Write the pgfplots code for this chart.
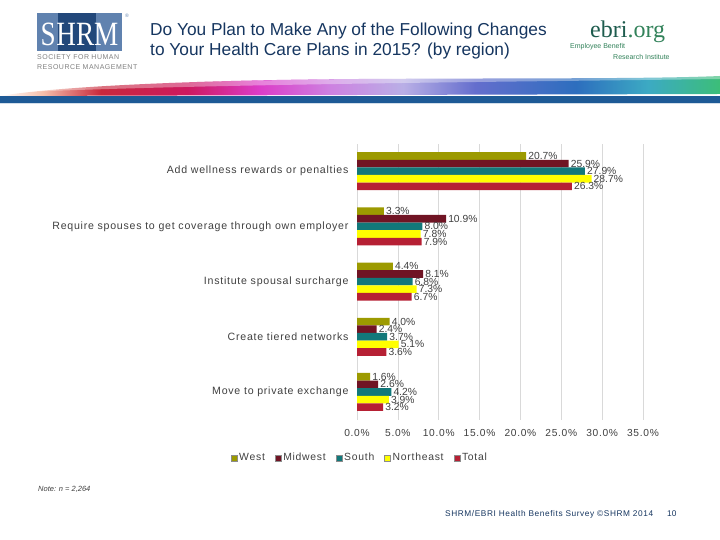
\documentclass[border=0pt]{standalone}
\usepackage{pgfplots}
\pgfplotsset{compat=1.18}
\usepackage{pgfplotstable}
\usepackage{fontspec}
\setmainfont{Liberation Sans}
\newfontfamily\spfont[LetterSpace=7]{Liberation Sans}
\newfontfamily\seriffont{Liberation Serif}
\definecolor{westc}{RGB}{156,154,0}
\definecolor{midc}{RGB}{112,20,36}
\definecolor{southc}{RGB}{18,120,122}
\definecolor{northc}{RGB}{255,255,0}
\definecolor{totalc}{RGB}{182,32,52}
\definecolor{txt}{RGB}{64,64,64}
\definecolor{navy}{RGB}{22,54,96}
\definecolor{shrmlight}{RGB}{96,130,175}
\definecolor{shrmdark}{RGB}{34,72,122}
\definecolor{ebridark}{RGB}{30,92,78}
\definecolor{ebrigreen}{RGB}{50,130,90}
\definecolor{bandblue}{RGB}{30,90,150}
\pgfdeclarehorizontalshading{ribbon}{100bp}{
 color(0bp)=(white);
 color(25bp)=(white);
 color(28bp)=(rgb,255:red,245;green,190;blue,170);
 color(32bp)=(rgb,255:red,200;green,40;blue,60);
 color(38bp)=(rgb,255:red,205;green,25;blue,95);
 color(43bp)=(rgb,255:red,220;green,60;blue,200);
 color(48bp)=(rgb,255:red,205;green,130;blue,225);
 color(53bp)=(rgb,255:red,185;green,175;blue,230);
 color(58bp)=(rgb,255:red,100;green,110;blue,205);
 color(65bp)=(rgb,255:red,45;green,110;blue,190);
 color(70bp)=(rgb,255:red,60;green,170;blue,195);
 color(75bp)=(rgb,255:red,60;green,190;blue,120);
 color(100bp)=(rgb,255:red,60;green,190;blue,120)}
\pgfplotstableread{
cat west midwest south northeast total
4 20.7 25.9 27.9 28.7 26.3
3 3.3 10.9 8.0 7.8 7.9
2 4.4 8.1 6.8 7.3 6.7
1 4.0 2.4 3.7 5.1 3.6
0 1.6 2.6 4.2 3.9 3.2
}\datatable
\begin{document}
\begin{tikzpicture}[x=1pt,y=1pt]
\path[fill=white] (0,0) rectangle (720,540);
% SHRM logo
\fill[shrmlight] (37,489) rectangle (122,527);
\fill[shrmdark] (58,489) rectangle (96,527);
\node[text=white,font=\seriffont\fontsize{34}{34}\selectfont,inner sep=0pt,anchor=base] at (79.5,494) {\scalebox{0.8}[1]{S\hspace{1pt}HRM}};
\node[text=shrmlight,font=\fontsize{5}{5}\selectfont,inner sep=0pt] at (127,524) {\textregistered};
\node[text=gray,font=\spfont\fontsize{7}{7}\selectfont,inner sep=0pt,anchor=west] at (37,483) {SOCIETY FOR HUMAN};
\node[text=gray,font=\spfont\fontsize{7}{7}\selectfont,inner sep=0pt,anchor=west] at (37,473) {RESOURCE MANAGEMENT};
% title
\node[text=navy,font=\fontsize{17.3}{20}\selectfont,inner sep=0pt,anchor=west] at (150,509) {Do You Plan to Make Any of the Following Changes};
\node[text=navy,font=\fontsize{17.3}{20}\selectfont,inner sep=0pt,anchor=west] at (150,489) {to Your Health Care Plans in 2015? (by region)};
% ebri logo
\node[font=\seriffont\fontsize{24}{24}\selectfont,inner sep=0pt,anchor=base west] at (590,502) {\textcolor{ebridark}{ebri}\textcolor{ebrigreen}{.org}};
\node[text=ebrigreen,font=\fontsize{7}{8}\selectfont,inner sep=0pt,anchor=west] at (570,493) {Employee Benefit};
\node[text=ebrigreen,font=\fontsize{7}{8}\selectfont,inner sep=0pt,anchor=west] at (613,483) {Research Institute};
% ribbon
\shade[shading=ribbon] (0,444) .. controls (60,454) and (200,460) .. (360,461) .. controls (520,462) and (650,461) .. (720,464) -- (720,446) -- (0,444) -- cycle;
\fill[white,opacity=0.35] (0,452) .. controls (200,461) and (500,463) .. (720,464) -- (720,461) .. controls (500,458) and (200,456) .. (0,447) -- cycle;
\fill[bandblue] (0,437) rectangle (720,444);
\fill[bandblue!20] (0,436) rectangle (720,437);
% chart
\begin{axis}[
 at={(357pt,120.4pt)}, anchor=south west,
 scale only axis, width=286pt, height=276pt,
 xmin=0, xmax=35, ymin=-0.5, ymax=4.5,
 xbar, bar width=7.6pt,
 /pgf/number format/assume math mode=true,
 axis line style={draw=none},
 major tick length=0pt,
 xmajorgrids, grid style={draw=black!15, line width=0.6pt},
 xtick={0,5,...,35},
 xticklabel={\pgfmathprintnumber[fixed,fixed zerofill,precision=1]{\tick}\%},
 xticklabel style={font=\spfont\fontsize{10.2}{12}\selectfont, text=txt, yshift=-6pt},
 ytick={0,1,2,3,4},
 yticklabels={Move to private exchange,Create tiered networks,Institute spousal surcharge,Require spouses to get coverage through own employer,Add wellness rewards or penalties},
 yticklabel style={font=\spfont\fontsize{10.6}{12}\selectfont, text=txt, xshift=-5pt},
 nodes near coords={\pgfmathprintnumber[fixed,fixed zerofill,precision=1]{\pgfplotspointmeta}\%},
 point meta=x,
 every node near coord/.append style={anchor=west, font=\fontsize{10.3}{11}\selectfont, text=txt, inner sep=2pt},
 legend style={at={(0.01,-0.139)}, anchor=center, draw=none, fill=none, legend columns=5,
   font=\spfont\fontsize{10.4}{12}\selectfont, text=txt,
   /tikz/every even column/.append style={column sep=8pt}},
 legend image code/.code={\draw[#1,draw=black!45,line width=0.4pt] (0pt,-3pt) rectangle (6pt,3pt);},
 clip=false,
]
\addplot[fill=westc, draw=none, bar shift=15.2pt] table[x=west,y=cat]{\datatable};
\addplot[fill=midc, draw=none, bar shift=7.6pt] table[x=midwest,y=cat]{\datatable};
\addplot[fill=southc, draw=none, bar shift=0pt] table[x=south,y=cat]{\datatable};
\addplot[fill=northc, draw=none, bar shift=-7.6pt] table[x=northeast,y=cat]{\datatable};
\addplot[fill=totalc, draw=none, bar shift=-15.2pt] table[x=total,y=cat]{\datatable};
\legend{West,Midwest,South,Northeast,Total}
\end{axis}
% footer
\node[text=txt,font=\itshape\fontsize{7.5}{8}\selectfont,inner sep=0pt,anchor=west] at (38,51) {Note: n = 2,264};
\node[text=navy,font=\spfont\fontsize{8.3}{9}\selectfont,inner sep=0pt,anchor=west] at (445,26) {SHRM/EBRI Health Benefits Survey \textcopyright SHRM 2014};
\node[text=navy,font=\fontsize{8.3}{9}\selectfont,inner sep=0pt,anchor=west] at (667,26) {10};
\end{tikzpicture}
\end{document}
